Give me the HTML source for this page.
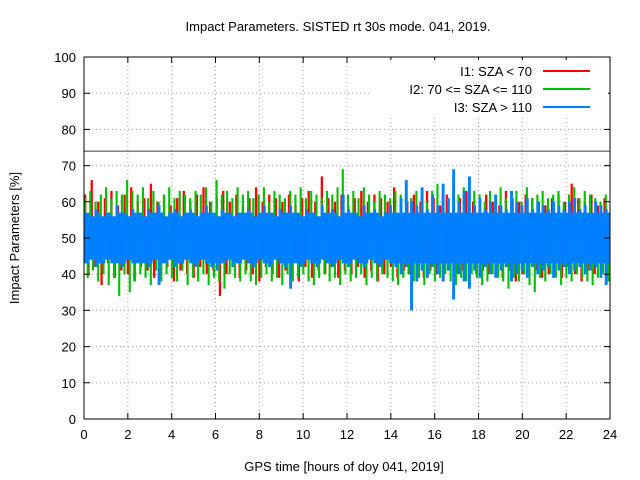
<!DOCTYPE html>
<html><head><meta charset="utf-8"><style>
body{margin:0;background:#fff}
svg{display:block;font-family:"Liberation Sans",sans-serif;font-size:13px}
</style></head><body>
<svg id="chart" width="640" height="480">
<rect width="640" height="480" fill="#fff"/>
<text x="338" y="31" text-anchor="middle">Impact Parameters. SISTED rt 30s mode. 041, 2019.</text>
<g id="grid"></g>
<g id="series"></g>
<rect x="84" y="57" width="526" height="362" fill="none" stroke="#000"/>
<g id="axes"></g>
<text x="344" y="471" text-anchor="middle">GPS time [hours of doy 041, 2019]</text>
<text transform="translate(19,238) rotate(-90)" text-anchor="middle">Impact Parameters [%]</text>
<g id="legend">
<rect x="370" y="60" width="238" height="58" fill="#fff"/>
<text x="532" y="76" text-anchor="end">I1: SZA &lt; 70</text>
<line x1="543" y1="71" x2="590" y2="71" stroke="#ff0000" stroke-width="2"/>
<text x="532" y="94" text-anchor="end">I2: 70 &lt;= SZA &lt;= 110</text>
<line x1="543" y1="89" x2="590" y2="89" stroke="#00c000" stroke-width="2"/>
<text x="532" y="112" text-anchor="end">I3: SZA &gt; 110</text>
<line x1="543" y1="107" x2="590" y2="107" stroke="#0080ff" stroke-width="2"/>
</g>
</svg>
<script>
const xTicks=[0,2,4,6,8,10,12,14,16,18,20,22,24];
const yTicks=[0,10,20,30,40,50,60,70,80,90,100];
const thresholdValue=74;
const redHi=[62,66,60,61,63,59,62,64,60,61,65,60,62,59,61,63,60,62,64,60,61,63,60,62,59,61,64,60,62,61,60,62,59,61,63,60,67,61,60,62,59,61,63,60,62,61,60,64,61,60,62,60,63,61,59,62,60,61,63,60,61,62,60,59,63,61,60,62,61,60,59,61,62,60,65,61,60,62,59,61];
const redLo=[40,42,37,43,39,41,40,38,42,41,39,40,42,38,41,40,39,42,40,41,34,40,42,39,41,40,38,42,40,39,41,40,38,42,39,41,40,42,39,41,40,42,39,41,38,40,42,39,41,40,42,39,41,40,38,42,40,41,39,40,41,40,42,39,41,38,40,42,41,39,40,41,39,42,40,38,41,40,42,41];
const greenHi=[61,63,60,62,64,61,63,62,66,63,62,64,61,63,60,62,64,61,63,62,61,63,62,64,60,66,62,63,61,64,62,63,61,62,64,60,63,62,61,63,62,64,61,63,62,61,63,62,64,69,62,63,61,64,62,60,63,62,61,63,62,64,61,63,62,60,63,65,62,61,63,62,64,61,63,62,60,63,62,64,61,62,63,60,64,61,62,63,61,62,63,60,62,64,61,63,62,61,60,62];
const greenLo=[39,41,38,40,37,39,34,40,35,38,40,39,37,41,38,40,39,38,41,37,39,38,40,37,39,38,36,40,39,38,40,38,37,39,40,38,39,37,40,38,39,40,38,37,39,40,38,39,37,40,38,39,40,37,39,38,40,39,38,37,39,40,38,39,37,40,38,39,40,38,37,39,38,40,39,37,38,40,39,38,36,39,38,40,37,35,39,38,40,39,37,39,38,40,39,38,37,39,40,38];
const blueHi=[57,56,58,56,57,56,59,57,56,58,57,56,58,57,59,56,57,58,56,57,58,56,57,59,57,56,58,57,56,57,57,58,56,57,59,57,56,58,57,59,57,56,58,57,56,59,57,58,56,62,58,57,56,59,57,58,56,57,59,57,61,66,60,59,64,58,62,59,65,61,69,60,63,67,59,61,58,60,62,59,58,63,60,59,61,58,60,59,58,60,59,58,60,61,58,59,57,60,59,58];
const blueLo=[43,44,42,43,44,43,43,42,44,43,43,43,42,44,37,43,44,42,43,44,43,42,44,43,42,41,43,44,42,43,44,43,42,44,43,42,44,43,42,36,43,42,44,43,42,44,43,42,44,43,42,44,43,42,44,43,42,44,43,42,40,42,30,38,41,39,42,40,38,41,33,40,38,36,41,39,42,40,39,41,42,38,40,41,39,42,40,41,42,39,41,42,40,41,42,40,41,42,39,37];
const NS="http://www.w3.org/2000/svg";
const X0=84,X1=610,Y0=419,Y1=57;
const xs=h=>X0+(h/24)*(X1-X0);
const ys=v=>Y0-(v/100)*(Y0-Y1);
function mk(tag,attrs,parent){const e=document.createElementNS(NS,tag);for(const k in attrs)e.setAttribute(k,attrs[k]);parent.appendChild(e);return e;}
const grid=document.getElementById('grid'),axes=document.getElementById('axes'),ser=document.getElementById('series');
xTicks.forEach(t=>{const x=xs(t);
 if(t>0&&t<24){const g=mk('line',{x1:x,y1:Y0,x2:x,y2:Y1,stroke:'#a0a0a0','stroke-dasharray':'1,3'},grid);
 
 }
 const tk=mk('path',{d:`M${x},${Y0}v-6M${x},${Y1}v6`,stroke:'#000'},axes);
 
 
 const l=mk('text',{x:x,y:Y0+20,'text-anchor':'middle'},axes);l.textContent=t;
 
 });
yTicks.forEach(t=>{const y=ys(t);
 if(t>0&&t<100){const g=mk('line',{x1:X0,y1:y,x2:X1,y2:y,stroke:'#a0a0a0','stroke-dasharray':'1,3'},grid);
 
 }
 const tk=mk('path',{d:`M${X0},${y}h6M${X1},${y}h-6`,stroke:'#000'},axes);
 
 
 const l=mk('text',{x:X0-8,y:y+5,'text-anchor':'end'},axes);l.textContent=t;
 
 });
function spikes(hi,lo,color,name,frac){const n=hi.length;const g=mk('g',{fill:color},ser);
 
 
 const bw=(X1-X0)/n;
 for(let i=0;i<n;i++){const x=xs(i*24/n);
  const w=Math.max(1.6,bw*frac);
  // two sub-spikes per bin
  const r1=mk('rect',{x:x,y:ys(hi[i]),width:w,height:ys(50)-ys(hi[i])},g);
  
  
  const r2=mk('rect',{x:x+bw/2,y:ys(50),width:w,height:ys(lo[i])-ys(50)},g);
  
  
 }}
function band(hi,lo,color,name){const n=hi.length;const g=mk('g',{fill:color},ser);
 
 
 const bw=(X1-X0)/n;
 for(let i=0;i<n;i++){const x=xs(i*24/n);
  const r=mk('rect',{x:x,y:ys(hi[i]),width:bw*0.55,height:ys(lo[i])-ys(hi[i])},g);
  
  
  const r2=mk('rect',{x:x+bw*0.45,y:ys(Math.min(hi[i],57)),width:bw*0.6,height:ys(Math.max(lo[i],43))-ys(Math.min(hi[i],57))},g);
  
  
 }}
spikes(redHi,redLo,'#ff0000','series-i1',0.35);
spikes(greenHi,greenLo,'#00c000','series-i2',0.4);
band(blueHi,blueLo,'#0080ff','series-i3');
const th=mk('line',{x1:X0,x2:X1,y1:ys(thresholdValue),y2:ys(thresholdValue),stroke:'#000','stroke-width':0.8},ser);


</script>
</body></html>
